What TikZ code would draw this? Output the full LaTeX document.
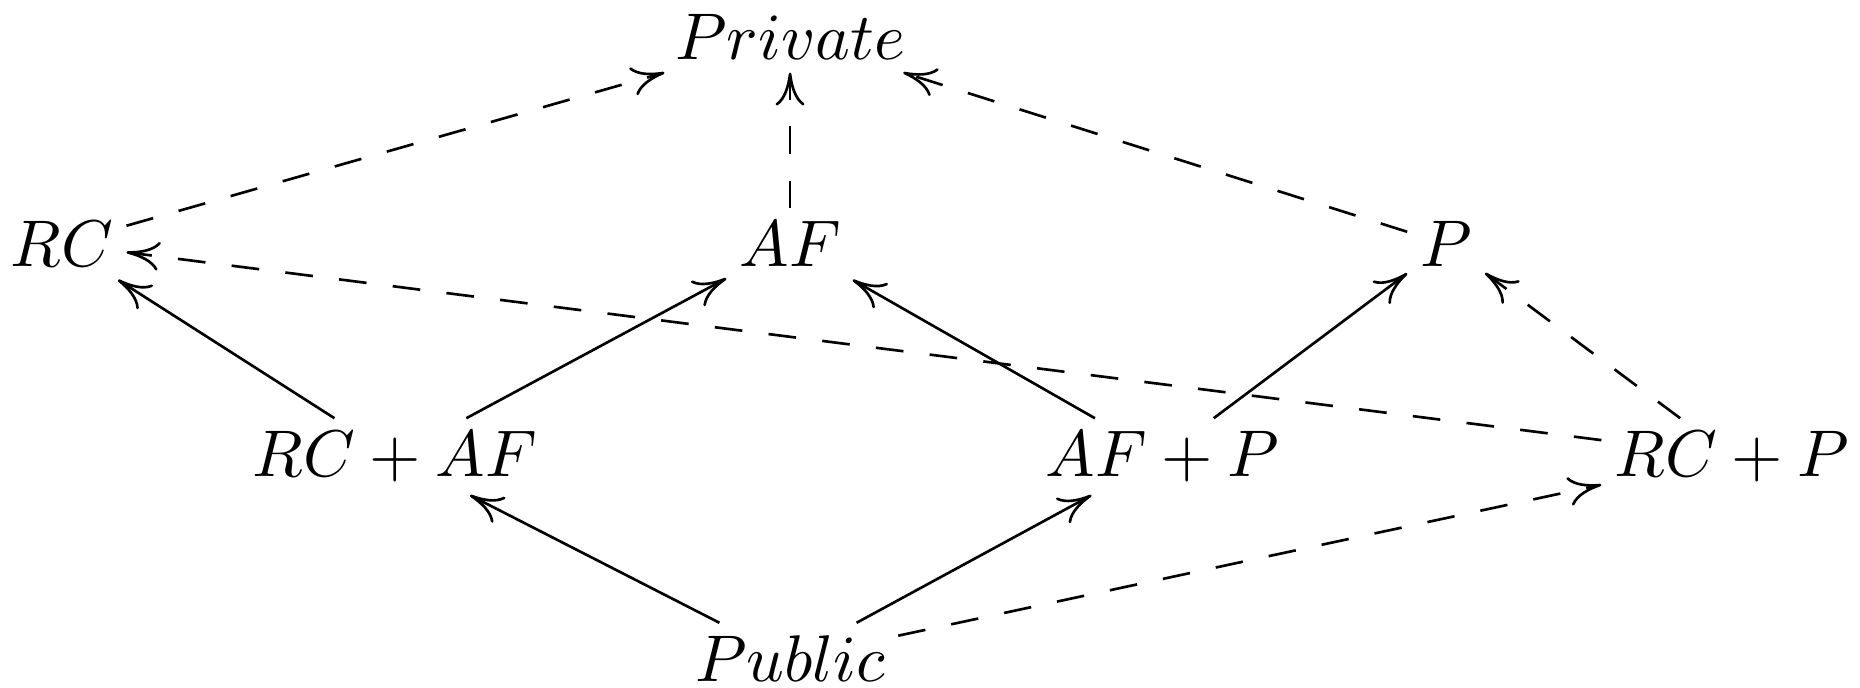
\documentclass[tikz,border=0pt]{standalone}
\usetikzlibrary{arrows.meta}

\begin{document}
\begin{tikzpicture}[
            lat/.style={inner sep=1.8pt, anchor=base},
            arrow/.style={-{Computer Modern Rightarrow[length=5pt,width=4.4pt]}},
            dasharrow/.style={arrow, dash pattern=on 4.2pt off 4pt}
        ]
        \useasboundingbox (0,0) rectangle (281.8pt,104.2pt);

        \node[lat] (private) at (119.7pt,95.2pt) {$Private$};

        \node[lat] (rc) at (9.4pt,63.8pt) {$RC$};
        \node[lat] (af) at (119.7pt,63.8pt) {$AF$};
        \node[lat] (p) at (219.1pt,63.8pt) {$P$};

        \node[lat] (rcaf) at (59.8pt,32pt) {$RC + AF$};
        \node[lat] (afp) at (176.1pt,32pt) {$AF + P$};
        \node[lat] (rcp) at (262.4pt,32pt) {$RC + P$};

        \node[lat] (public) at (119.7pt,0.9pt) {$Public$};

        % Solid arrows
        \draw[arrow] (rcaf) -- (rc);
        \draw[arrow] (rcaf) -- (af);
        \draw[arrow] (afp) -- (af);
        \draw[arrow] (afp) -- (p);
        \draw[arrow] (public) -- (rcaf);
        \draw[arrow] (public) -- (afp);

        % Dashed arrows
        \draw[dasharrow] (rc) -- (private);
        \draw[dasharrow] (af) -- (private);
        \draw[dasharrow] (p) -- (private);
        \draw[dasharrow] (rcp) -- (rc);
        \draw[dasharrow] (rcp) -- (p);
        \draw[dasharrow] (public) -- (rcp);

    \end{tikzpicture}
\end{document}
